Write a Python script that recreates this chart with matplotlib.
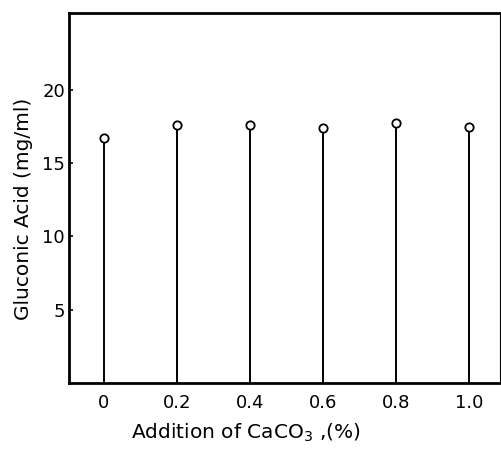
import matplotlib
matplotlib.use('Agg')
import matplotlib.pyplot as plt
import numpy as np

# CaCO3 addition (%) and gluconic acid yield (mg/ml)
caco3 = [0.0, 0.2, 0.4, 0.6, 0.8, 1.0]
gluconic = [16.7, 17.6, 17.6, 17.4, 17.7, 17.45]
y_ticks = [5, 10, 15, 20]
x_ticks = [0.0, 0.2, 0.4, 0.6, 0.8, 1.0]
x_labels = ['0', '0.2', '0.4', '0.6', '0.8', '1.0']

fig = plt.figure(figsize=(5.01, 4.54), dpi=100)
ax = fig.add_axes([0.138, 0.156, 0.86, 0.815])

ax.vlines(caco3, 0, gluconic, color='black', linewidth=1.4)
ax.plot(caco3, gluconic, 'o', markersize=6, markerfacecolor='white',
        markeredgecolor='black', markeredgewidth=1.3)

ax.set_xlim(-0.095, 1.085)
ax.set_ylim(0, 25.2)
ax.set_yticks(y_ticks)
ax.set_xticks(x_ticks)
ax.set_xticklabels(x_labels)
ax.tick_params(axis='y', direction='in', length=3, width=1.2, labelsize=13, pad=3)
ax.tick_params(axis='x', length=0, labelsize=13, pad=8)

for side in ['left', 'top', 'bottom']:
    ax.spines[side].set_linewidth(2)
ax.spines['right'].set_linewidth(0.8)

ax.set_xlabel('Addition of CaCO$_3$ ,(%)', fontsize=14.5)
ax.set_ylabel('Gluconic Acid (mg/ml)', fontsize=14.5)
ax.xaxis.set_label_coords(0.41, -0.105)
ax.yaxis.set_label_coords(-0.085, 0.47)

fig.savefig('out.png', dpi=100)
